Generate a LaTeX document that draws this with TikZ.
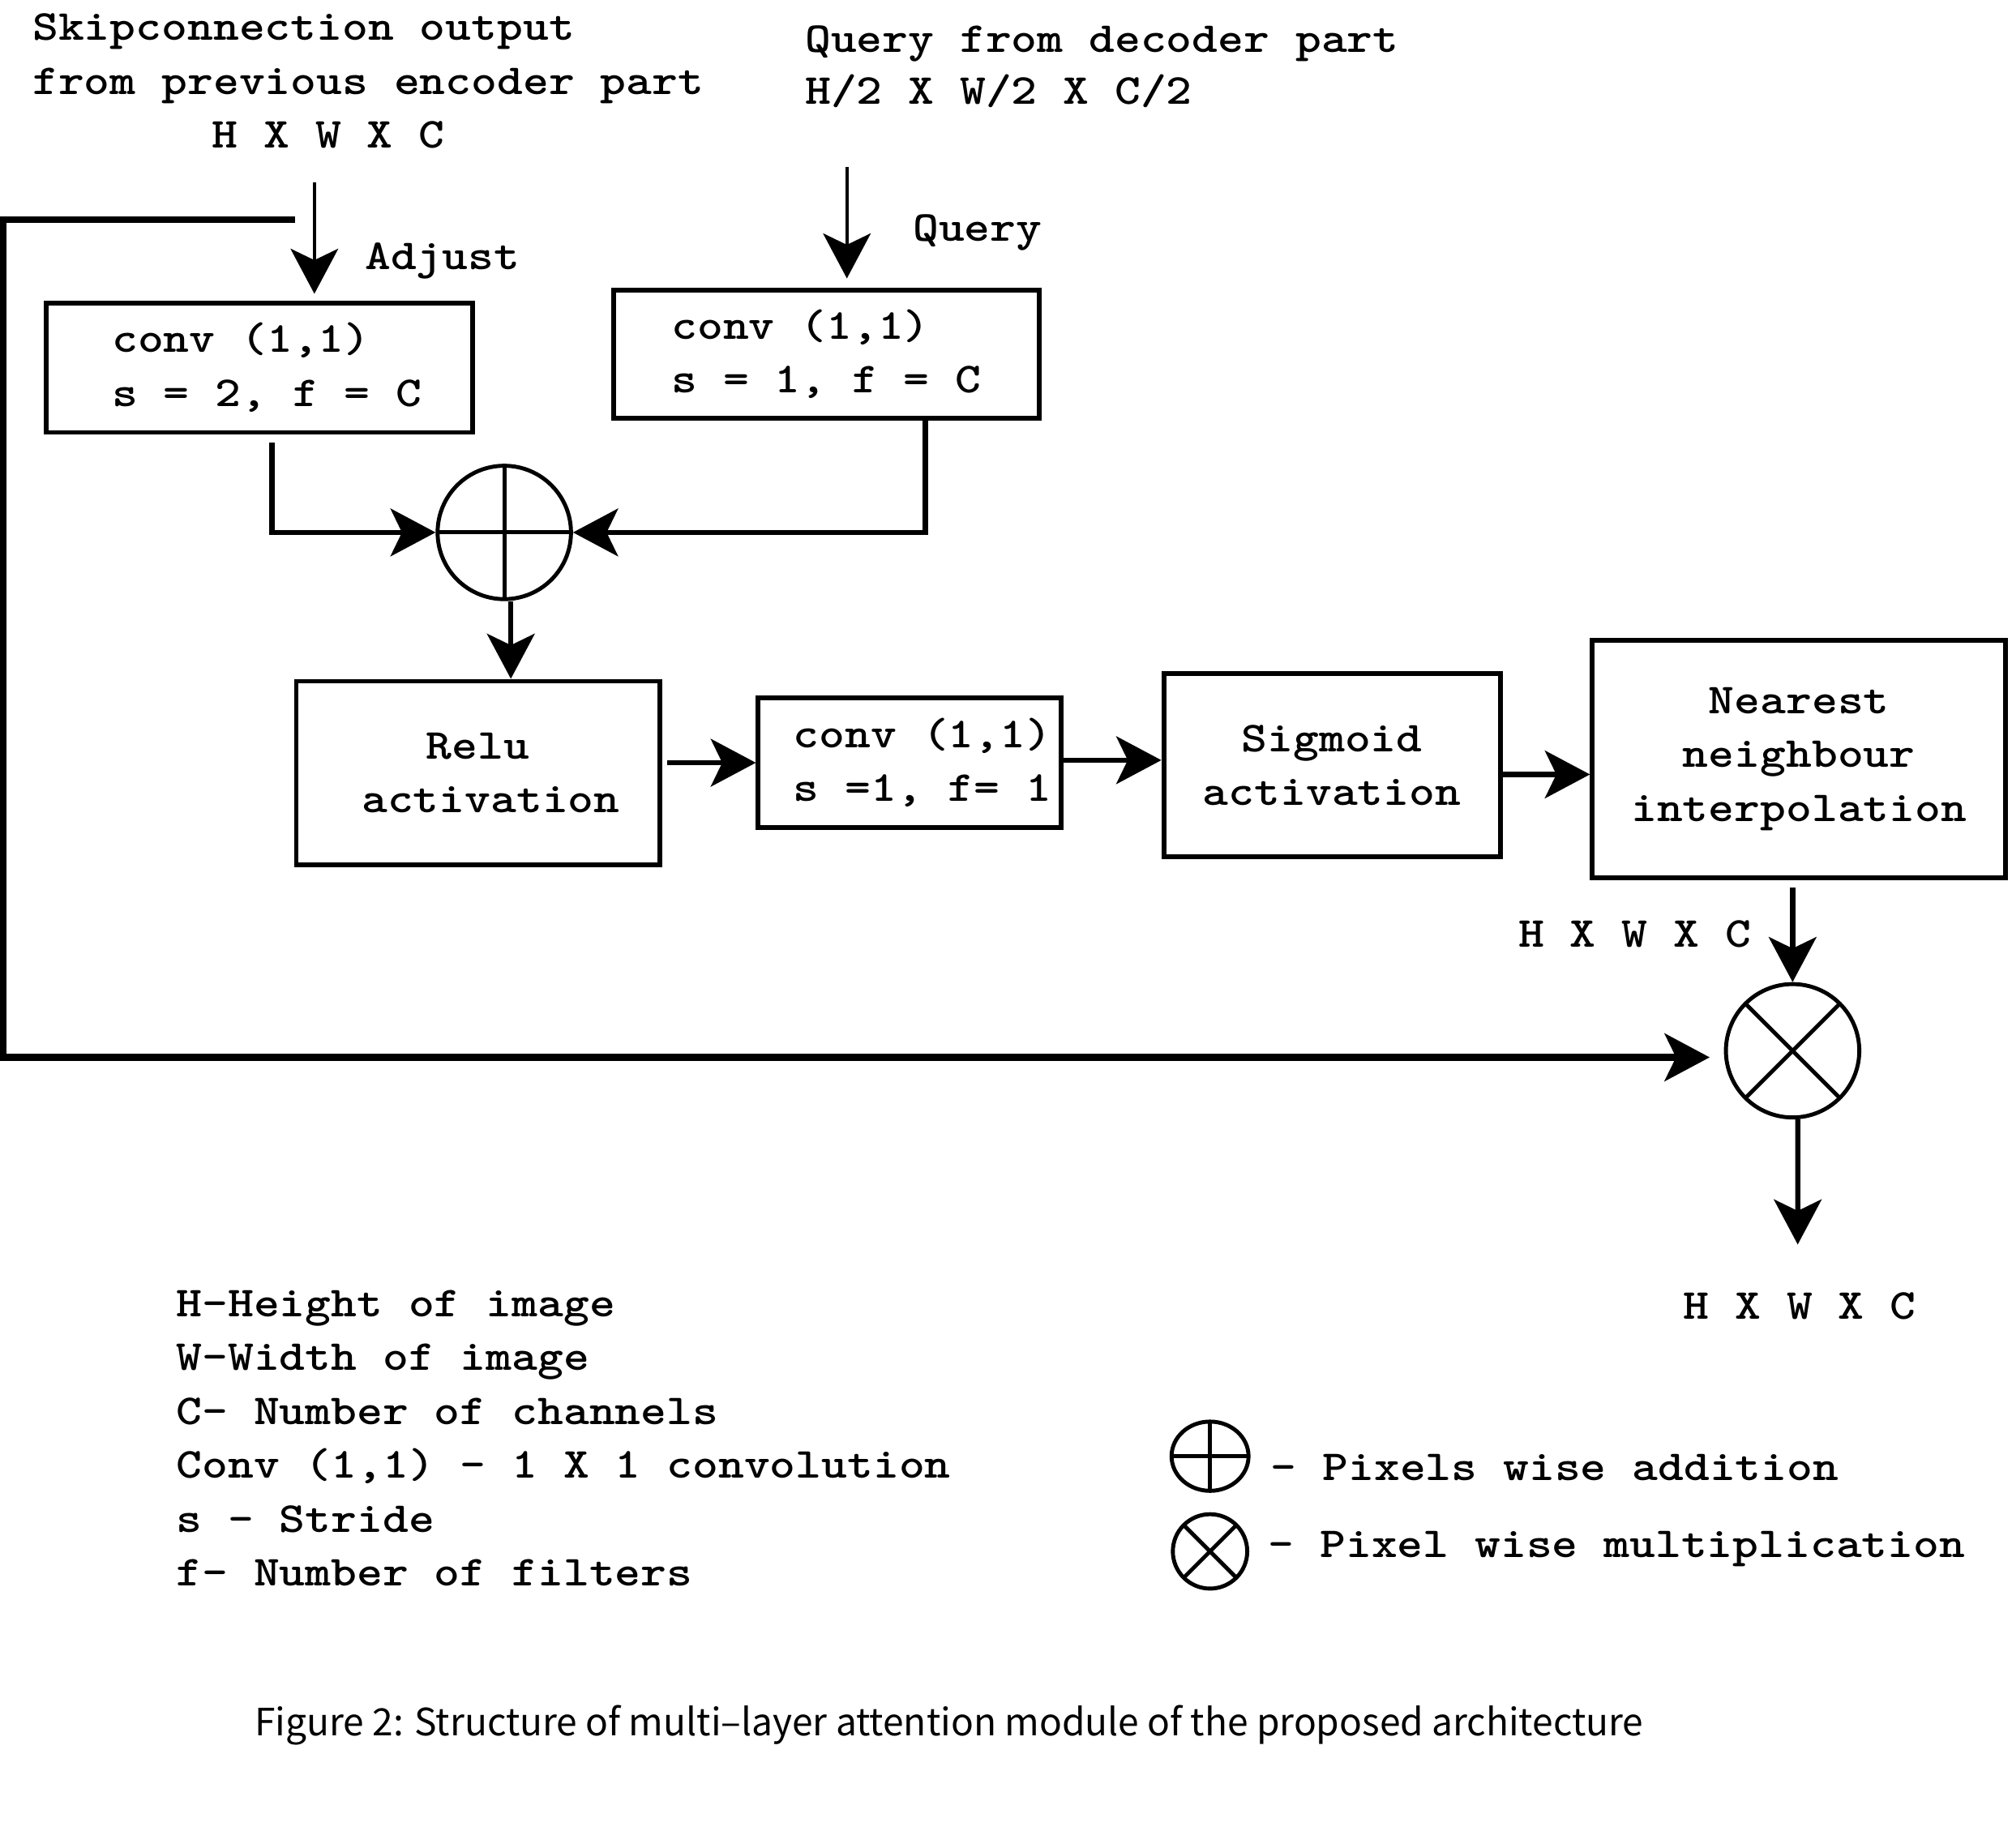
\documentclass[tikz,border=0pt]{standalone}
\usepackage{fontspec}
\newfontfamily\monob{lmmonolt10-bold}[Extension=.otf, FakeStretch=1.15]
\newfontfamily\capfont{Noto Sans CJK JP}
\usetikzlibrary{arrows.meta, positioning, shapes.geometric}
% one unit of the grid below is 0.015829cm = 0.4504pt
\tikzset{
  txt/.style={inner sep=0pt, font=\monob\fontsize{15}{18.9}\selectfont},
  block/.style={
    txt, draw, line width=1.7pt, inner sep=0pt
  },
  convblk/.style={block, align=left},
  actblk/.style={block, align=center},
  opnode/.style={
    circle, draw, line width=1.4pt, inner sep=0pt, minimum size=46.8pt
  },
  addop/.style={opnode, path picture={
    \draw[line width=1.4pt] (path picture bounding box.north) -- (path picture bounding box.south)
      (path picture bounding box.west) -- (path picture bounding box.east);}},
  mulop/.style={opnode, path picture={
    \draw[line width=1.4pt] (path picture bounding box.north west) -- (path picture bounding box.south east)
      (path picture bounding box.north east) -- (path picture bounding box.south west);}},
  inarr/.style={
    -{Stealth[length=15.8pt,width=16.7pt,inset=4pt]}, line width=1.2pt
  },
  farr/.style={
    -{Stealth[length=15.8pt,width=16.7pt,inset=4pt]}, line width=1.8pt
  },
  skiparr/.style={
    -{Stealth[length=15.8pt,width=16.7pt,inset=4pt]}, line width=2.3pt
  }
}
\begin{document}
\begin{tikzpicture}[x=0.015829cm, y=-0.015829cm, node distance=6.8pt]
  \useasboundingbox (0,0) rectangle (1568,1440);
  % inputs
  \node[txt, anchor=base west] (skt1) at (25,31.5) {Skipconnection output};
  \node[txt, anchor=base west] (skt2) at (25,73.3) {from previous encoder part};
  \node[txt, anchor=base west] (skt3) at (165,115) {H X W X C};
  \node[txt, anchor=base west] (qt1) at (627,40.6) {Query from decoder part};
  \node[txt, anchor=base west] (qt2) at (627,81.2) {H/2 X W/2 X C/2};
  \coordinate (skipin) at (245,142);
  \coordinate (qin) at (660,130);
  \coordinate (skipst) at (230,171);
  \coordinate (skipcrn) at (2.6,171);
  % blocks
  \node[convblk, minimum width=149.5pt, minimum height=45.5pt] (adj) at (202,286.5)
    {\hspace*{5.4pt}conv (1,1)\\\hspace*{5.4pt}s = 2, f = C};
  \node[convblk, minimum width=149.5pt, minimum height=45pt] (qry) at (644,276)
    {conv (1,1)\\s = 1, f = C};
  \node[addop] (add) at (393,415) {};
  \node[actblk, minimum width=127.5pt, minimum height=64.4pt] (relu) at (372.5,602.5)
    {Relu\\\hspace*{9pt}activation};
  \node[convblk, minimum width=106.3pt, minimum height=45.5pt] (psi) at (709,594.5)
    {\hspace*{9pt}conv (1,1)\\\hspace*{9pt}s =1, f= 1};
  \node[actblk, minimum width=118pt, minimum height=64.4pt] (sig) at (1038,596.5)
    {Sigmoid\\activation};
  \node[actblk, minimum width=145pt, minimum height=83.3pt] (nni) at (1402,591.5)
    {Nearest\\neighbour\\interpolation};
  \node[mulop] (mul) at (1397,819) {};
  \coordinate (out) at (1401,970);
  % labels
  \node[txt, anchor=base west] (adjlbl) at (284,210) {Adjust};
  \node[txt, anchor=base west] (qlbl) at (711,188) {Query};
  \node[txt, anchor=base west] (dim1) at (1183,738.5) {H X W X C};
  \node[txt, anchor=base west] (dim2) at (1311.6,1028) {H X W X C};
  % connectors
  \draw[inarr, shorten >=2.3pt] (skipin) -- (skipin |- adj.north);
  \draw[inarr, shorten >=3.2pt] (qin) -- (qin |- qry.north);
  \draw[farr, shorten <=2.7pt] ([xshift=4.5pt]adj.south) |- (add.west);
  \draw[farr] ([xshift=34.7pt]qry.south) |- (add.east);
  \draw[farr] ([xshift=2.3pt]add.south) -- ([xshift=2.3pt]add.south |- relu.north);
  \draw[farr, shorten <=1.8pt] (relu.east |- psi.west) -- (psi.west);
  \draw[farr] ([yshift=0.9pt]psi.east) -- ([yshift=0.9pt]psi.east -| sig.west);
  \draw[farr] ([yshift=-3.2pt]sig.east) -- ([yshift=-3.2pt]sig.east -| nni.west);
  \draw[farr, shorten <=2.7pt] (nni.south -| mul.north) -- (mul.north);
  \draw[farr] ([xshift=1.8pt]mul.south) -- (out);
  \draw[skiparr, shorten >=5pt] (skipst) -- (skipcrn) |- ([yshift=-2.3pt]mul.west);
  % legend
  \node[txt, anchor=base west] (leg1) at (137,1026) {H-Height of image};
  \node[txt, anchor=base west] (leg2) at (137,1068) {W-Width of image};
  \node[txt, anchor=base west] (leg3) at (137,1110) {C- Number of channels};
  \node[txt, anchor=base west] (leg4) at (137,1152) {Conv (1,1) - 1 X 1 convolution};
  \node[txt, anchor=base west] (leg5) at (137,1194) {s - Stride};
  \node[txt, anchor=base west] (leg6) at (137,1236) {f- Number of filters};
  \node[addop, ellipse, minimum width=27pt, minimum height=24.3pt] (addkey) at (943,1135) {};
  \node[mulop, minimum size=26.1pt, below=of addkey] (mulkey) {};
  \node[txt, anchor=base west] (addtxt) at (990,1154) {- Pixels wise addition};
  \node[txt, anchor=base west] (multxt) at (988,1214) {- Pixel wise multiplication};
  % caption
  \node[anchor=base west, inner sep=0pt, font=\capfont\fontsize{13.2}{16}\selectfont] (cap) at (198,1353)
    {\resizebox{487.3pt}{\height}{Figure 2: Structure of multi–layer attention module of the proposed architecture}};
\end{tikzpicture}
\end{document}
